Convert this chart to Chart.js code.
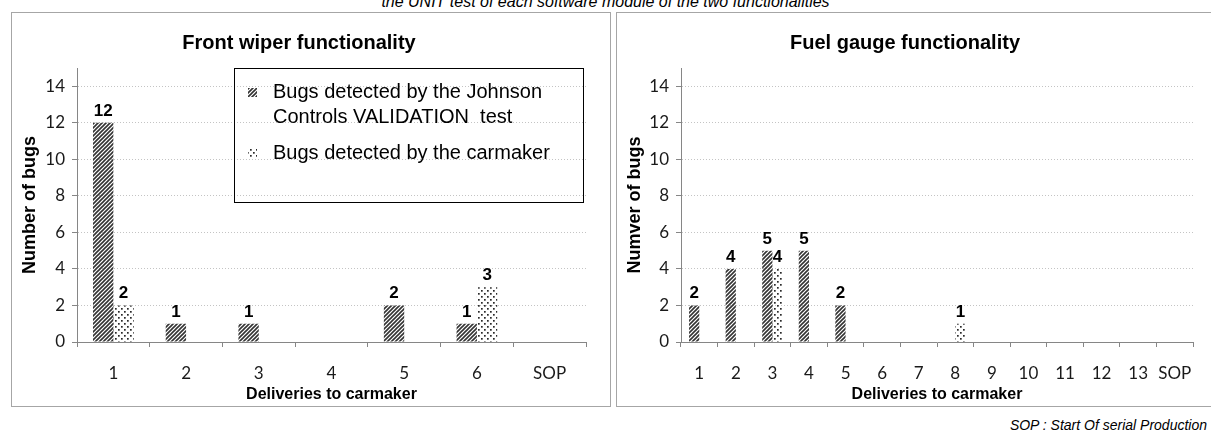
<!DOCTYPE html>
<html>
<head>
<meta charset="utf-8">
<title>Bugs per delivery</title>
<script src="https://cdn.jsdelivr.net/npm/chart.js@4.4.1/dist/chart.umd.min.js"></script>
<style>
  html, body { margin: 0; padding: 0; background: #fff; overflow: hidden; }
  body { width: 1211px; height: 432px; position: relative; font-family: "Liberation Sans", Arial, sans-serif; }
  .caption {
    position: absolute; left: 0; width: 1211px; top: -6px;
    text-align: center; font-style: italic; font-size: 16px; line-height: 1; color: #000;
  }
  .panel {
    position: absolute; top: 12px; width: 600px; height: 395px;
    box-sizing: border-box; border: 1px solid #a6a6a6;
  }
  .panel canvas { position: absolute; left: 0; top: 0; }
  #wiper-panel { left: 11px; }
  #gauge-panel { left: 616px; }
  .note {
    position: absolute; right: 4px; top: 418px;
    font-style: italic; font-size: 14px; line-height: 1; color: #000;
  }
</style>
</head>
<body>
  <div class="caption">the UNIT test of each software module of the two functionalities</div>

  <div class="panel" id="wiper-panel"><canvas id="wiper-chart" width="598" height="393"></canvas></div>
  <div class="panel" id="gauge-panel"><canvas id="gauge-chart" width="598" height="393"></canvas></div>

  <div class="note">SOP : Start Of serial Production</div>

<script>
'use strict';

// Front wiper
const wiperDeliveries = ['1', '2', '3', '4', '5', '6', 'SOP'];
const wiperValidation = [12, 1, 1, 0, 2, 1, 0];
const wiperCarmaker   = [2, 0, 0, 0, 0, 3, 0];

// Fuel gauge
const gaugeDeliveries = ['1', '2', '3', '4', '5', '6', '7', '8', '9', '10', '11', '12', '13', 'SOP'];
const gaugeValidation = [2, 4, 5, 5, 2, 0, 0, 0, 0, 0, 0, 0, 0, 0];
const gaugeCarmaker   = [0, 0, 4, 0, 0, 0, 0, 1, 0, 0, 0, 0, 0, 0];

const legendLabels = [
  ['Bugs detected by the Johnson', 'Controls VALIDATION  test'],
  ['Bugs detected by the carmaker'],
];

const yMax = 15;
const yStep = 2;

const AXIS = '#868686';
const GRID = '#c4c4c4';
const INK  = '#1a1a1a';
const SANS = '"Liberation Sans", Arial, sans-serif';
const TICK_FONT = 'Lato, "Open Sans", sans-serif';

// diagonal hatch fill (///)
function hatchPattern(ctx) {
  const tile = document.createElement('canvas');
  tile.width = 4; tile.height = 4;
  const t = tile.getContext('2d');
  t.strokeStyle = '#333';
  t.lineWidth = 1.6;
  t.beginPath();
  t.moveTo(-1, 5); t.lineTo(5, -1);
  t.moveTo(-1, 1); t.lineTo(1, -1);
  t.moveTo(3, 5); t.lineTo(5, 3);
  t.stroke();
  return ctx.createPattern(tile, 'repeat');
}

// sparse staggered dots
function dotPattern(ctx) {
  const tile = document.createElement('canvas');
  tile.width = 6; tile.height = 6;
  const t = tile.getContext('2d');
  t.fillStyle = '#2a2a2a';
  t.fillRect(1, 1, 1.7, 1.7);
  t.fillRect(4, 4, 1.7, 1.7);
  return ctx.createPattern(tile, 'repeat');
}

// value labels above each non-zero bar
const barValues = {
  id: 'barValues',
  afterDatasetsDraw(chart) {
    const { ctx } = chart;
    ctx.save();
    ctx.font = 'bold 17px ' + SANS;
    ctx.fillStyle = '#000';
    ctx.textAlign = 'center';
    ctx.textBaseline = 'alphabetic';
    chart.data.datasets.forEach((ds, i) => {
      chart.getDatasetMeta(i).data.forEach((bar, j) => {
        const v = ds.data[j];
        if (!v) return;
        ctx.fillText(String(v), bar.x, bar.y - 7);
      });
    });
    ctx.restore();
  },
};

// boxed legend in the upper right of the wiper plot
const boxLegend = {
  id: 'boxLegend',
  afterDraw(chart) {
    const { ctx } = chart;
    const fills = chart.data.datasets.map(d => d.backgroundColor);
    ctx.save();
    ctx.strokeStyle = '#000';
    ctx.lineWidth = 1;
    ctx.strokeRect(222.5, 55.5, 349, 134);

    ctx.font = '20px ' + SANS;
    ctx.textBaseline = 'middle';
    const rows = [[79, 104], [140]];
    legendLabels.forEach((lines, i) => {
      const ys = rows[i];
      ctx.fillStyle = fills[i];
      ctx.fillRect(236, ys[0] - 4, 9, 9);
      ctx.fillStyle = '#000';
      lines.forEach((txt, k) => ctx.fillText(txt, 261, ys[k]));
    });
    ctx.restore();
  },
};

function makeChart(canvasId, title, yTitle, labels, validation, carmaker, rightPad, leftWidth, extra) {
  const canvas = document.getElementById(canvasId);
  const ctx = canvas.getContext('2d');
  return new Chart(ctx, {
    type: 'bar',
    data: {
      labels,
      datasets: [
        { label: legendLabels[0].join(' '), data: validation, backgroundColor: hatchPattern(ctx), borderWidth: 0 },
        { label: legendLabels[1][0], data: carmaker, backgroundColor: dotPattern(ctx), borderWidth: 0 },
      ],
    },
    options: {
      responsive: false,
      animation: false,
      devicePixelRatio: 1,
      layout: { padding: { left: 0, right: rightPad, top: 0, bottom: 0 } },
      datasets: { bar: { categoryPercentage: 0.56, barPercentage: 1.0 } },
      plugins: {
        legend: { display: false },
        tooltip: { enabled: false },
        title: {
          display: true,
          text: title,
          color: '#000',
          font: { family: SANS, size: 20, weight: 'bold', lineHeight: 1.2 },
          padding: { top: 18, bottom: 13 },
        },
      },
      scales: {
        x: {
          grid: { offset: true, drawOnChartArea: false, drawTicks: true, tickLength: 5, tickColor: AXIS, tickWidth: 1 },
          border: { color: AXIS, width: 1 },
          ticks: { color: INK, font: { family: TICK_FONT, size: 17 }, padding: 16, autoSkip: false, maxRotation: 0 },
          title: {
            display: true,
            text: 'Deliveries to carmaker',
            color: '#000',
            font: { family: SANS, size: 16, weight: 'bold', lineHeight: 1.2 },
            padding: { top: 0, bottom: 2 },
          },
          afterFit: s => { s.height = 64; },
        },
        y: {
          min: 0,
          max: yMax,
          grid: {
            color: c => (c.tick && c.tick.value === 0 ? 'rgba(0,0,0,0)' : GRID),
            tickColor: AXIS, tickLength: 5, tickBorderDash: [], tickWidth: 1,
          },
          border: { color: AXIS, width: 1, dash: [1, 2] },
          ticks: { stepSize: yStep, includeBounds: false, color: INK, font: { family: TICK_FONT, size: 17 }, padding: 7 },
          title: {
            display: true,
            text: yTitle,
            color: '#000',
            font: { family: SANS, size: 18, weight: 'bold', lineHeight: 1.2 },
            padding: { top: 7, bottom: 0 },
          },
          afterFit: s => { s.width = leftWidth; },
        },
      },
    },
    plugins: [barValues].concat(extra || []),
  });
}

function draw() {
  makeChart('wiper-chart', 'Front wiper functionality', 'Number of bugs',
    wiperDeliveries, wiperValidation, wiperCarmaker, 24, 65, [boxLegend]);
  makeChart('gauge-chart', 'Fuel gauge functionality', 'Numver of bugs',
    gaugeDeliveries, gaugeValidation, gaugeCarmaker, 22, 64);
}

document.fonts.load('17px Lato').then(draw, draw);
</script>
</body>
</html>
